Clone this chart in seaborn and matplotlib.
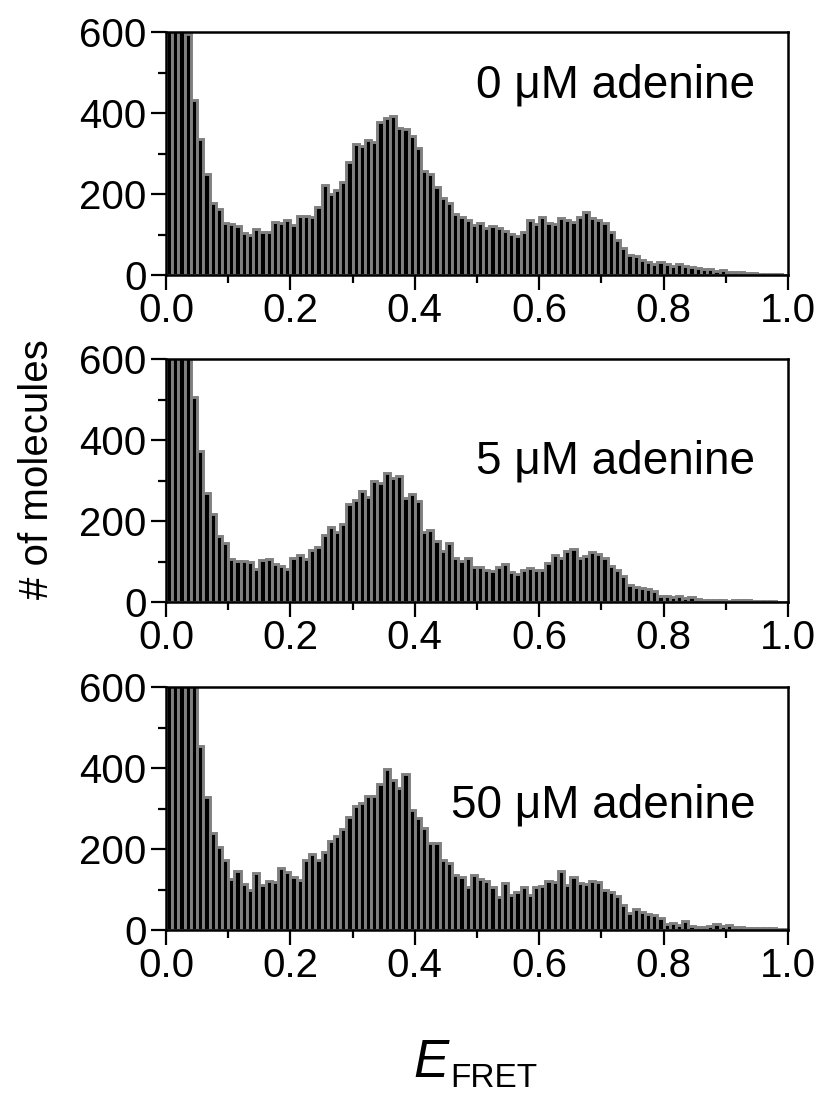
import numpy as np
import pandas as pd
import matplotlib
matplotlib.use("Agg")
import matplotlib.pyplot as plt
import seaborn as sns
from matplotlib.ticker import MultipleLocator

# ---------------- data ----------------
bin_width = 0.01
bin_range = (0.0, 1.0)
bin_centers = np.round(np.arange(100) * bin_width + bin_width / 2, 4)

labels = ["0 \u03bcM adenine", "5 \u03bcM adenine", "50 \u03bcM adenine"]

counts_0uM = [1500, 1100, 800, 594, 432, 336, 249, 179, 164, 128,
              127, 122, 104, 99, 114, 105, 105, 132, 128, 137,
              123, 146, 145, 143, 169, 223, 199, 211, 230, 279,
              324, 319, 334, 329, 379, 387, 393, 362, 361, 343,
              314, 257, 249, 218, 189, 177, 151, 144, 137, 123,
              129, 117, 120, 115, 109, 101, 97, 107, 137, 127,
              142, 129, 125, 140, 137, 131, 144, 155, 140, 136,
              128, 107, 86, 67, 49, 48, 37, 31, 28, 33,
              28, 23, 26, 23, 20, 18, 16, 15, 10, 12,
              7, 7, 7, 4, 4, 3, 3, 2, 2, 1]

counts_5uM = [1400, 1000, 750, 620, 506, 374, 270, 217, 163, 145,
              105, 101, 101, 99, 81, 103, 105, 94, 89, 81,
              109, 115, 107, 129, 136, 165, 186, 173, 193, 242,
              253, 275, 260, 300, 295, 318, 306, 310, 257, 267,
              249, 173, 179, 150, 125, 145, 108, 102, 108, 86,
              86, 78, 76, 86, 95, 74, 70, 80, 83, 80,
              78, 97, 115, 108, 126, 130, 108, 113, 123, 119,
              108, 90, 78, 64, 41, 37, 35, 31, 27, 16,
              16, 12, 15, 10, 12, 7, 6, 6, 4, 5,
              3, 5, 4, 4, 3, 3, 2, 2, 1, 1]

counts_50uM = [1600, 1200, 900, 700, 620, 454, 328, 240, 204, 173,
               127, 146, 113, 100, 140, 111, 121, 118, 152, 142,
               131, 123, 174, 188, 173, 193, 220, 232, 249, 280,
               306, 314, 331, 331, 360, 397, 370, 350, 384, 296,
               276, 251, 216, 214, 173, 166, 136, 132, 107, 137,
               126, 121, 107, 82, 115, 86, 93, 107, 86, 105,
               109, 121, 119, 146, 111, 132, 115, 114, 121, 118,
               99, 95, 84, 62, 41, 51, 45, 40, 37, 29,
               16, 18, 12, 23, 10, 8, 8, 10, 15, 10,
               12, 8, 7, 6, 6, 5, 4, 4, 3, 3]

all_counts = [counts_0uM, counts_5uM, counts_50uM]

# ---------------- style ----------------
sns.set_theme(style="white")
plt.rcParams["font.family"] = ["Liberation Sans", "DejaVu Sans"]

fig = plt.figure(figsize=(8.14, 10.95), dpi=100)

W, H = 814.0, 1095.0
left_px, right_px = 166, 788
panels_px = [(32, 275), (359, 602), (687, 930)]
label_y = [0.732, 0.527, 0.465]

for i, (cnts, lab) in enumerate(zip(all_counts, labels)):
    top, bot = panels_px[i]
    ax = fig.add_axes([left_px / W, 1 - bot / H, (right_px - left_px) / W, (bot - top) / H])
    df = pd.DataFrame({"E": bin_centers, "n": np.asarray(cnts, dtype=float)})
    sns.histplot(data=df, x="E", weights="n", binwidth=bin_width, binrange=bin_range,
                 ax=ax, color="black", edgecolor="#808080", linewidth=2.1, alpha=1.0)
    ax.set_xlim(0, 1)
    ax.set_ylim(0, 600)
    ax.set_xlabel("")
    ax.set_ylabel("")
    ax.set_xticks([0.0, 0.2, 0.4, 0.6, 0.8, 1.0])
    ax.set_xticklabels(["0.0", "0.2", "0.4", "0.6", "0.8", "1.0"])
    ax.set_yticks([0, 200, 400, 600])
    ax.xaxis.set_minor_locator(MultipleLocator(0.1))
    ax.yaxis.set_minor_locator(MultipleLocator(100))
    ax.tick_params(which="major", direction="out", length=11, width=1.6,
                   labelsize=29, colors="black", bottom=True, left=True)
    ax.tick_params(axis="x", which="major", pad=1)
    ax.tick_params(axis="y", which="major", pad=3)
    ax.tick_params(which="minor", direction="out", length=6, width=1.6,
                   bottom=True, left=True, colors="black")
    for s in ax.spines.values():
        s.set_visible(True)
        s.set_color("black")
        s.set_linewidth(1.8)
        s.set_zorder(5)
    ax.text(0.947, label_y[i], lab, transform=ax.transAxes, ha="right",
            va="baseline", fontsize=33, color="black")

fig.text(37 / W, 1 - 469 / H, "# of molecules", rotation=90, ha="center",
         va="center", fontsize=29, color="black")
fig.text(413 / W, 1 - 1077 / H, "E", fontstyle="italic", fontsize=38,
         ha="left", va="baseline", color="black")
fig.text(450 / W, 1 - 1087 / H, "FRET", fontsize=24, ha="left",
         va="baseline", color="black")

fig.savefig("out.png", dpi=100)
